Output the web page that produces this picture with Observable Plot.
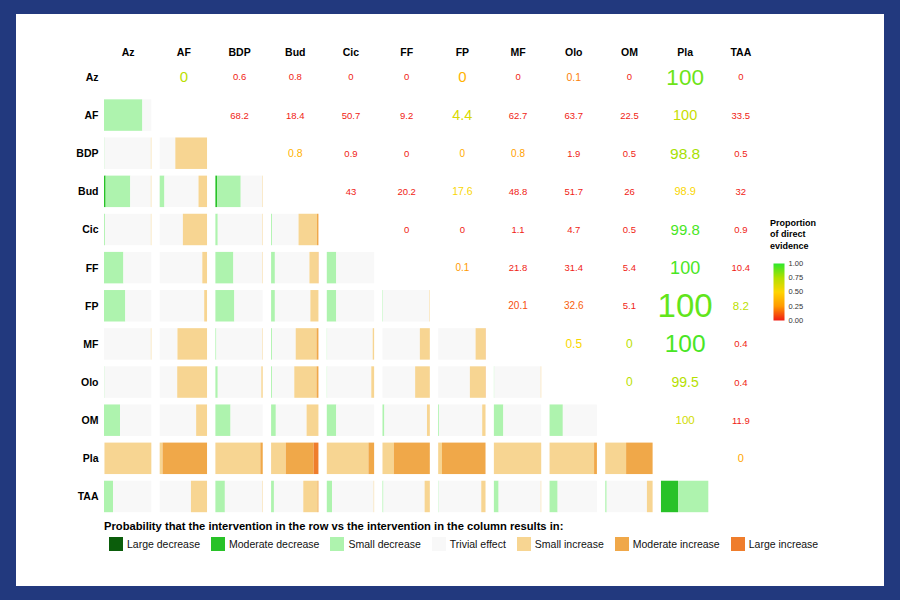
<!DOCTYPE html>
<html>
<head>
<meta charset="utf-8">
<script src="https://cdn.jsdelivr.net/npm/d3@7"></script>
<script src="https://cdn.jsdelivr.net/npm/@observablehq/plot@0.6"></script>
<style>
  html, body { margin: 0; padding: 0; width: 900px; height: 600px; overflow: hidden; background: #22397e; font-family: Arial, "Liberation Sans", sans-serif; }
  #panel { position: absolute; left: 16px; top: 14px; width: 868px; height: 572px; background: #ffffff; }
  #chart { position: absolute; left: 0; top: 0; }
  #cbTitle { position: absolute; left: 770px; top: 217.5px; font-size: 9px; font-weight: bold; line-height: 11.5px; color: #000; }
  #colorbar { position: absolute; left: 773px; top: 257px; }
  #legTitle { position: absolute; left: 104px; top: 520px; font-size: 11.2px; font-weight: bold; color: #000; white-space: nowrap; }
  #legItems { position: absolute; left: 109px; top: 537px; display: flex; align-items: center; font-size: 10.5px; color: #111; white-space: nowrap; }
  .item { display: flex; align-items: center; margin-right: 11px; }
  .sw { width: 14px; height: 14px; margin-right: 4px; box-sizing: border-box; }
</style>
</head>
<body>
<div id="panel"></div>
<div id="chart"></div>
<div id="cbTitle">Proportion<br>of direct<br>evidence</div>
<div id="colorbar"></div>
<div id="legTitle">Probability that the intervention in the row vs the intervention in the column results in:</div>
<div id="legItems"></div>
<script>
// ---------- data ----------
const drugs = ["Az", "AF", "BDP", "Bud", "Cic", "FF", "FP", "MF", "Olo", "OM", "Pla", "TAA"];
const categories = ["Large decrease", "Moderate decrease", "Small decrease", "Trivial effect", "Small increase", "Moderate increase", "Large increase"];
const categoryColors = ["#0b5d0b", "#28c228", "#aef3ae", "#f8f8f8", "#f7d592", "#f0a849", "#ef7d2c"];

// lower triangle: probabilities per category (row vs column), columns Az.. up to row-1
const barsAF  = [[0,0,0.81,0.19,0,0,0]];
const barsBDP = [[0,0,0.01,0.98,0.01,0,0],[0,0,0,0.33,0.67,0,0]];
const barsBud = [[0,0.035,0.52,0.435,0.01,0,0],[0,0,0.1,0.72,0.18,0,0],[0,0.035,0.5,0.455,0.01,0,0]];
const barsCic = [[0,0,0.02,0.97,0.01,0,0],[0,0,0,0.49,0.51,0,0],[0,0,0.05,0.94,0.01,0,0],[0,0,0.02,0.56,0.39,0.03,0]];
const barsFF  = [[0,0,0.41,0.59,0,0,0],[0,0,0,0.9,0.1,0,0],[0,0,0.38,0.61,0.01,0,0],[0,0,0.08,0.73,0.18,0.01,0],[0,0,0.2,0.8,0,0,0]];
const barsFP  = [[0,0,0.45,0.55,0,0,0],[0,0,0,0.94,0.06,0,0],[0,0,0.4,0.6,0,0,0],[0,0,0.08,0.75,0.17,0,0],[0,0,0.2,0.8,0,0,0],[0,0,0.01,0.98,0.01,0,0]];
const barsMF  = [[0,0,0,0.99,0.01,0,0],[0,0,0,0.375,0.625,0,0],[0,0,0.02,0.97,0.01,0,0],[0,0,0.02,0.5,0.44,0.04,0],[0,0,0.01,0.96,0.03,0,0],[0,0,0,0.79,0.21,0,0],[0,0,0,0.79,0.2,0.01,0]];
const barsOlo = [[0,0,0.01,0.99,0,0,0],[0,0,0,0.37,0.63,0,0],[0,0,0.05,0.92,0.03,0,0],[0,0,0.02,0.47,0.47,0.04,0],[0,0,0.01,0.93,0.06,0,0],[0,0,0,0.69,0.31,0,0],[0,0,0,0.67,0.32,0.01,0],[0,0,0.01,0.98,0.01,0,0]];
const barsOM  = [[0,0,0.34,0.66,0,0,0],[0,0,0,0.77,0.23,0,0],[0,0,0.32,0.68,0,0,0],[0,0,0.1,0.65,0.25,0,0],[0,0,0.2,0.8,0,0,0],[0,0,0.04,0.9,0.06,0,0],[0,0,0.02,0.91,0.07,0,0],[0,0,0.2,0.8,0,0,0],[0,0,0.28,0.72,0,0,0]];
const barsPla = [[0,0,0,0.01,0.99,0,0],[0,0,0,0,0.06,0.94,0],[0,0,0,0,0.95,0.05,0],[0,0,0,0,0.31,0.59,0.1],[0,0,0,0,0.88,0.12,0],[0,0,0,0,0.24,0.76,0],[0,0,0,0,0.08,0.92,0],[0,0,0,0,1,0,0],[0,0,0,0,0.94,0.06,0],[0,0,0,0,0.44,0.56,0]];
const barsTAA = [[0,0,0.19,0.81,0,0,0],[0,0,0,0.66,0.34,0,0],[0,0,0.2,0.79,0.01,0,0],[0,0,0.06,0.62,0.3,0.02,0],[0,0,0.11,0.88,0.01,0,0],[0,0,0.02,0.87,0.11,0,0],[0,0,0.01,0.9,0.09,0,0],[0,0,0.1,0.89,0.01,0,0],[0,0,0.17,0.83,0,0,0],[0,0,0.03,0.85,0.12,0,0],[0,0.36,0.64,0,0,0,0]];
const lowerRows = [barsAF, barsBDP, barsBud, barsCic, barsFF, barsFP, barsMF, barsOlo, barsOM, barsPla, barsTAA];

// upper triangle: printed values (row), columns from row+1 to TAA
const upperValues = [
  [0, 0.6, 0.8, 0, 0, 0, 0, 0.1, 0, 100, 0],
  [68.2, 18.4, 50.7, 9.2, 4.4, 62.7, 63.7, 22.5, 100, 33.5],
  [0.8, 0.9, 0, 0, 0.8, 1.9, 0.5, 98.8, 0.5],
  [43, 20.2, 17.6, 48.8, 51.7, 26, 98.9, 32],
  [0, 0, 1.1, 4.7, 0.5, 99.8, 0.9],
  [0.1, 21.8, 31.4, 5.4, 100, 10.4],
  [20.1, 32.6, 5.1, 100, 8.2],
  [0.5, 0, 100, 0.4],
  [0, 99.5, 0.4],
  [100, 11.9],
  [0]
];
// proportion of direct evidence (colour)
const upperDirect = [
  [0.72, 0, 0, 0, 0, 0.35, 0, 0.2, 0, 0.88, 0],
  [0, 0, 0, 0, 0.62, 0, 0, 0, 0.68, 0],
  [0.35, 0, 0, 0.33, 0.28, 0, 0, 0.77, 0],
  [0, 0, 0.52, 0, 0, 0, 0.52, 0],
  [0, 0, 0, 0, 0, 0.95, 0],
  [0.25, 0, 0, 0, 0.95, 0],
  [0.1, 0.13, 0, 0.9, 0.72],
  [0.52, 0.72, 0.95, 0],
  [0.72, 0.74, 0],
  [0.65, 0],
  [0.3]
];
// relative weight of each comparison (text size)
const upperWeight = [
  [1.5, 0.95, 0.95, 0.95, 0.95, 1.5, 0.95, 1.05, 0.95, 2.25, 0.95],
  [0.95, 0.95, 0.95, 0.95, 1.45, 0.95, 0.95, 0.95, 1.45, 0.95],
  [1.05, 0.95, 0.95, 1.0, 1.0, 0.95, 0.95, 1.55, 0.95],
  [0.95, 0.95, 1.05, 0.95, 0.95, 0.95, 1.1, 0.95],
  [0.95, 0.95, 0.95, 0.95, 0.95, 1.5, 0.95],
  [1.0, 0.95, 0.95, 0.95, 1.8, 0.95],
  [1.0, 1.0, 0.95, 3.3, 1.15],
  [1.2, 1.2, 2.45, 0.95],
  [1.2, 1.4, 0.95],
  [1.15, 0.95],
  [1.1]
];
const rampStops = [0, 0.25, 0.5, 0.75, 1];
const rampColors = ["#f01c14", "#ff9a00", "#ffd500", "#b2e000", "#2de82d"];
const rampTicks = [0, 0.25, 0.5, 0.75, 1];

// ---------- build tables ----------
const barData = [];
lowerRows.forEach((cells, r) => cells.forEach((props, c) => props.forEach((p, k) => {
  barData.push({row: drugs[r + 1], col: drugs[c], cat: k, p});
})));
const directColor = d3.scaleLinear().domain(rampStops).range(rampColors).interpolate(d3.interpolateRgb);
const textData = [];
upperValues.forEach((vals, r) => vals.forEach((v, k) => {
  textData.push({row: drugs[r], col: drugs[r + 1 + k], v, direct: upperDirect[r][k], w: upperWeight[r][k]});
}));

// ---------- main grid ----------
const chart = Plot.plot({
  width: 900,
  height: 520,
  marginLeft: 104,
  marginRight: 136,
  marginTop: 61.2,
  marginBottom: 7.8,
  style: {background: "none", fontFamily: "Arial, 'Liberation Sans', sans-serif", fontSize: "10.5px", fontWeight: "bold", color: "#000"},
  fx: {domain: drugs, paddingInner: 0.15, paddingOuter: 0, round: false, axis: "top", label: null, tickSize: 0, tickPadding: 6},
  fy: {domain: drugs, paddingInner: 0.175, paddingOuter: 0, round: false, axis: "left", label: null, tickSize: 0, tickPadding: 6},
  x: {domain: [0, 1], axis: null},
  y: {axis: null},
  color: {type: "identity"},
  marks: [
    Plot.barX(barData, Plot.stackX({
      x: "p", fx: "col", fy: "row",
      fill: d => categoryColors[d.cat],
      offset: "normalize",
      order: null
    })),
    Plot.text(textData, {
      fx: "col", fy: "row",
      frameAnchor: "middle",
      text: d => String(d.v),
      fill: d => directColor(d.direct),
      fontSize: d => 10 * d.w,
      fontWeight: "normal"
    })
  ]
});
document.getElementById("chart").appendChild(chart);

// ---------- colour bar ----------
const cb = Plot.plot({
  width: 50,
  height: 70,
  marginLeft: 0,
  marginRight: 39,
  marginTop: 6,
  marginBottom: 7,
  style: {background: "none", fontFamily: "Arial, 'Liberation Sans', sans-serif", fontSize: "7.5px", color: "#333"},
  x: {domain: [0, 1], axis: null},
  y: {domain: [0, 1], axis: "right", ticks: rampTicks, tickFormat: ".2f", tickSize: 0, tickPadding: 4, label: null},
  color: {type: "linear", domain: rampStops, range: rampColors},
  marks: [
    Plot.raster({x1: 0, x2: 1, y1: 0, y2: 1, width: 1, height: 100, fill: (x, y) => y, imageRendering: "auto"})
  ]
});
document.getElementById("colorbar").appendChild(cb);

// ---------- category legend ----------
const leg = document.getElementById("legItems");
categories.forEach((c, i) => {
  const it = document.createElement("div");
  it.className = "item";
  const sw = document.createElement("div");
  sw.className = "sw";
  sw.style.background = categoryColors[i];
  it.appendChild(sw);
  const t = document.createElement("span");
  t.textContent = c;
  it.appendChild(t);
  leg.appendChild(it);
});
</script>
</body>
</html>
